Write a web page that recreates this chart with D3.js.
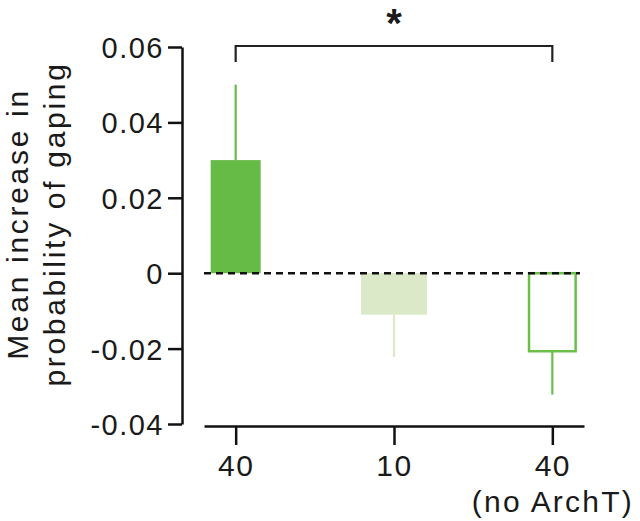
<!DOCTYPE html>
<html>
<head>
<meta charset="utf-8">
<script src="https://cdn.jsdelivr.net/npm/d3@7"></script>
<style>
  html, body { margin: 0; padding: 0; background: #fff; }
  svg { display: block; }
  text { font-family: "Liberation Sans", Arial, Helvetica, sans-serif; fill: #1a1a1a; }
</style>
</head>
<body>
<svg id="chart" width="640" height="521"></svg>
<script>
// ---- data ----
const categories = ["40", "10", "40"];
const subLabels = ["", "", "(no ArchT)"];
const means = [0.030, -0.011, -0.0207];
const errors = [0.020, -0.0112, -0.0115]; // error bar extent drawn away from zero
const yTicks = [0.06, 0.04, 0.02, 0, -0.02, -0.04];
const yTickLabels = ["0.06", "0.04", "0.02", "0", "-0.02", "-0.04"];
const yLabelLines = ["Mean increase in", "probability of gaping"];
const sigLabel = "*";

// ---- styles ----
const barStyles = [
  { fill: "#66bb46", stroke: "none", err: "#66bb46", width: 50 },
  { fill: "#dbe9c8", stroke: "none", err: "#dbe9c8", width: 66 },
  { fill: "#ffffff", stroke: "#6abf4a", err: "#6abf4a", width: 49 }
];

const svg = d3.select("#chart");
const y = d3.scaleLinear().domain([-0.04, 0.06]).range([424, 47]);
const x = d3.scalePoint().domain(d3.range(categories.length)).range([204, 584]).padding(0.2);

// y axis
const yAxis = d3.axisLeft(y).tickValues(yTicks)
  .tickFormat((d, i) => yTickLabels[i]).tickSize(14).tickPadding(4).tickSizeOuter(0);
const gy = svg.append("g").attr("transform", "translate(182,0)").call(yAxis);
gy.select(".domain").attr("stroke", "#111").attr("stroke-width", 2.5);
gy.selectAll(".tick line").attr("stroke", "#111").attr("stroke-width", 2.5);
gy.selectAll(".tick text").attr("font-size", 29).attr("letter-spacing", "1.5px")
  .attr("dy", "0.36em").style("fill", "#1a1a1a");

// x axis
const xAxis = d3.axisBottom(x).tickFormat(i => categories[i]).tickSize(19).tickPadding(10).tickSizeOuter(0);
const gx = svg.append("g").attr("transform", "translate(0,426)").call(xAxis);
gx.select(".domain").attr("stroke", "#111").attr("stroke-width", 2.5);
gx.selectAll(".tick line").attr("stroke", "#111").attr("stroke-width", 2.5);
gx.selectAll(".tick text").attr("font-size", 30).attr("letter-spacing", "1.5px").style("fill", "#1a1a1a");
gx.selectAll(".tick").append("text")
  .attr("y", 86).attr("text-anchor", "middle").attr("font-size", 30).attr("letter-spacing", "2.2px")
  .style("fill", "#1a1a1a")
  .text(i => subLabels[i]);

// error bars
svg.append("g").selectAll("line").data(means).join("line")
  .attr("x1", (d, i) => x(i)).attr("x2", (d, i) => x(i))
  .attr("y1", d => y(d)).attr("y2", (d, i) => y(d + errors[i]))
  .attr("stroke", (d, i) => barStyles[i].err).attr("stroke-width", 2.2);

// bars
svg.append("g").selectAll("rect").data(means).join("rect")
  .attr("x", (d, i) => x(i) - barStyles[i].width / 2 + (barStyles[i].stroke !== "none" ? 1.2 : 0))
  .attr("width", (d, i) => barStyles[i].width - (barStyles[i].stroke !== "none" ? 2.4 : 0))
  .attr("y", d => Math.min(y(d), y(0)))
  .attr("height", d => Math.abs(y(d) - y(0)))
  .attr("fill", (d, i) => barStyles[i].fill)
  .attr("stroke", (d, i) => barStyles[i].stroke)
  .attr("stroke-width", 2.5);

// zero dashed line
svg.append("line")
  .attr("x1", 204).attr("x2", 580).attr("y1", y(0)).attr("y2", y(0))
  .attr("stroke", "#111").attr("stroke-width", 2.5).attr("stroke-dasharray", "7,5");

// significance bracket
const bTop = 46, bDrop = 16;
svg.append("path")
  .attr("d", `M${x(0)},${bTop + bDrop}V${bTop}H${x(2)}V${bTop + bDrop}`)
  .attr("fill", "none").attr("stroke", "#222").attr("stroke-width", 2.2);
svg.append("text")
  .attr("x", (x(0) + x(2)) / 2).attr("y", 37).attr("text-anchor", "middle")
  .attr("font-size", 40).attr("font-weight", "bold").text(sigLabel);

// y label
const yl = svg.append("text")
  .attr("transform", "translate(0,224) rotate(-90)")
  .attr("text-anchor", "middle").attr("font-size", 30).attr("letter-spacing", "2.7px");
yLabelLines.forEach((t, i) => {
  yl.append("tspan").attr("x", 0).attr("y", 27.5 + i * 37).text(t);
});
</script>
</body>
</html>
